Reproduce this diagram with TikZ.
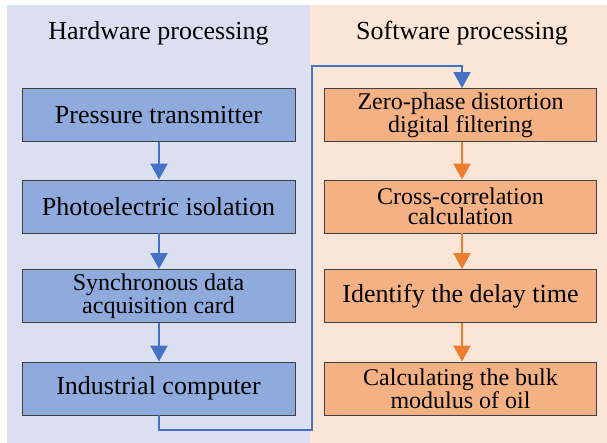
\documentclass[tikz,border=0pt]{standalone}
\usepackage{fontspec}
\setmainfont{Liberation Serif}
\usetikzlibrary{arrows.meta}
\definecolor{hwbg}{RGB}{218,224,242}
\definecolor{swbg}{RGB}{251,229,214}
\definecolor{hwbox}{RGB}{143,170,220}
\definecolor{swbox}{RGB}{244,177,131}
\definecolor{hwline}{RGB}{68,114,196}
\definecolor{swline}{RGB}{237,125,49}
\definecolor{edge}{RGB}{64,64,64}
\tikzset{
  panel title/.style={anchor=base, font=\fontsize{26}{26}\selectfont, inner sep=0pt},
  stepbox/.style={draw=edge, line width=0.9pt, minimum height=53pt, inner sep=0pt,
    align=center, font=\fontsize{26}{26}\selectfont},
  twoline/.style={font=\fontsize{24}{19.5}\selectfont},
  hwstep/.style={stepbox, fill=hwbox, minimum width=273pt},
  swstep/.style={stepbox, fill=swbox, minimum width=272pt},
  flow/.style={line width=2.2pt, -{Triangle[width=17pt,length=16pt]}},
}
\begin{document}
\begin{tikzpicture}[x=1pt, y=-1pt]
  \useasboundingbox (0,0) rectangle (607,443);
  % background panels
  \fill[hwbg] (7,5) rectangle (310,443);
  \fill[swbg] (310,5) rectangle (607,443);
  \node[panel title] (hwtitle) at (158.5,40) {Hardware processing};
  \node[panel title] (swtitle) at (462,40) {Software processing};

  % hardware chain
  \node[hwstep] (h1) at (158.5,115) {Pressure transmitter};
  \node[hwstep] (h2) at (158.5,206.5) {Photoelectric isolation};
  \node[hwstep, twoline] (h3) at (158.5,296) {Synchronous data\\acquisition card};
  \node[hwstep] (h4) at (158.5,388.5) {Industrial computer};

  % software chain
  \node[swstep, twoline] (s1) at (460.5,115) {Zero-phase distortion\\digital filtering};
  \node[swstep, twoline] (s2) at (460.5,206.5) {Cross-correlation\\calculation};
  \node[swstep] (s3) at (460.5,296) {Identify the delay time};
  \node[swstep, twoline] (s4) at (460.5,388.5) {Calculating the bulk\\modulus of oil};

  \begin{scope}[hwline]
    \draw[flow] ([xshift=0.5pt]h1.south) -- ([xshift=0.5pt]h2.north);
    \draw[flow] ([xshift=0.5pt]h2.south) -- ([xshift=0.5pt]h3.north);
    \draw[flow] ([xshift=0.5pt]h3.south) -- ([xshift=0.5pt]h4.north);
    \coordinate (lowturn) at (312,430);
    \coordinate (highturn) at (312,66);
    \draw[flow]
      ([xshift=0.5pt]h4.south) |- (lowturn) -- (highturn) -| ([xshift=1.5pt]s1.north);
  \end{scope}
  \begin{scope}[swline]
    \draw[flow] ([xshift=1.5pt]s1.south) -- ([xshift=1.5pt]s2.north);
    \draw[flow] ([xshift=1.5pt]s2.south) -- ([xshift=1.5pt]s3.north);
    \draw[flow] ([xshift=1.5pt]s3.south) -- ([xshift=1.5pt]s4.north);
  \end{scope}
\end{tikzpicture}
\end{document}
